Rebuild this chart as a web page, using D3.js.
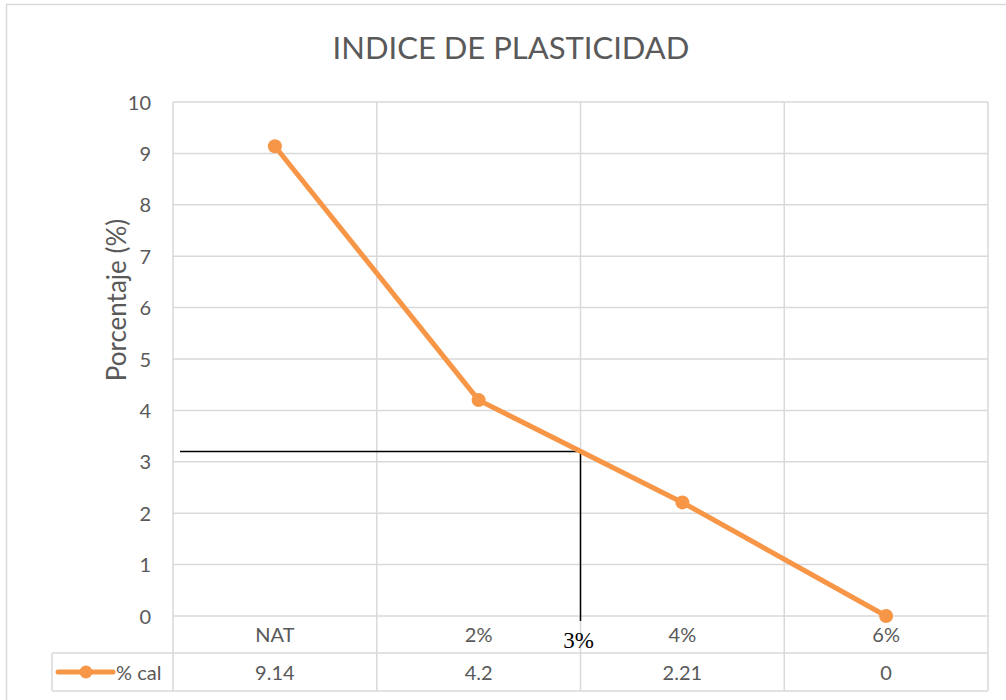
<!DOCTYPE html>
<html><head><meta charset="utf-8">
<script src="https://cdn.jsdelivr.net/npm/d3@7"></script>
<style>body{margin:0;background:#fff}svg{display:block}</style>
</head><body>
<svg id="c" width="1006" height="700"></svg>
<script>
const categories = ["NAT","2%","4%","6%"];
const values = [9.14, 4.2, 2.21, 0];
const valueLabels = ["9.14","4.2","2.21","0"];
const yTicks = [0,1,2,3,4,5,6,7,8,9,10];
const seriesName = "% cal";
const refValue = 3.2;   // reading line
const refLabel = "3%";

const svg = d3.select("#c");
const font = "Lato, 'Liberation Sans', sans-serif";
const grey = "#595959", gridC = "#d9d9d9", orange = "#F79646";
const L = 173, R = 988, T = 102, B = 616;

// chart border
svg.append("rect").attr("x",6.5).attr("y",4.5).attr("width",1010).attr("height",710)
  .attr("fill","none").attr("stroke","#d9d9d9").attr("stroke-width",1.5);

const x = d3.scaleBand().domain(categories).range([L,R]);
const y = d3.scaleLinear().domain([0,10]).range([B,T]);

// title
svg.append("text").attr("x",511).attr("y",59).attr("text-anchor","middle")
  .attr("font-family",font).attr("font-size",31).attr("fill",grey).text("INDICE DE PLASTICIDAD");

// horizontal grid
svg.append("g").selectAll("line").data(yTicks).join("line")
  .attr("x1",L).attr("x2",R).attr("y1",d=>y(d)).attr("y2",d=>y(d))
  .attr("stroke",gridC).attr("stroke-width",1.5);

// vertical grid (extend through data table)
const vx = categories.map(c=>x(c)).concat([R]);
svg.append("g").selectAll("line").data(vx).join("line")
  .attr("x1",d=>d).attr("x2",d=>d).attr("y1",T).attr("y2",691)
  .attr("stroke",gridC).attr("stroke-width",1.5);

// y axis
const yAxis = d3.axisLeft(y).tickValues(yTicks).tickSize(0).tickPadding(0).tickFormat(d3.format("d"));
const ga = svg.append("g").attr("transform",`translate(151,0)`).call(yAxis);
ga.select(".domain").remove();
ga.selectAll("text").attr("font-family",font).attr("font-size",20).attr("fill",grey).attr("dy","0.35em");

svg.append("text").attr("transform","translate(126,300) rotate(-90)").attr("text-anchor","middle")
  .attr("font-family",font).attr("font-size",26).attr("fill",grey).text("Porcentaje (%)");

// data table
const tbl = svg.append("g");
tbl.append("line").attr("x1",52).attr("x2",R).attr("y1",653).attr("y2",653).attr("stroke",gridC).attr("stroke-width",1.5);
tbl.append("line").attr("x1",52).attr("x2",R).attr("y1",691).attr("y2",691).attr("stroke",gridC).attr("stroke-width",1.5);
tbl.append("line").attr("x1",52).attr("x2",52).attr("y1",653).attr("y2",691).attr("stroke",gridC).attr("stroke-width",1.5);
tbl.selectAll("text.cat").data(categories).join("text").attr("class","cat")
  .attr("x",d=>x(d)+x.bandwidth()/2).attr("y",642).attr("text-anchor","middle")
  .attr("font-family",font).attr("font-size",20).attr("fill",grey).text(d=>d);
tbl.selectAll("text.val").data(valueLabels).join("text").attr("class","val")
  .attr("x",(d,i)=>x(categories[i])+x.bandwidth()/2).attr("y",680).attr("text-anchor","middle")
  .attr("font-family",font).attr("font-size",20).attr("fill",grey).text(d=>d);
// legend key
tbl.append("line").attr("x1",58).attr("x2",113).attr("y1",672).attr("y2",672).attr("stroke",orange).attr("stroke-width",5).attr("stroke-linecap","round");
tbl.append("circle").attr("cx",86).attr("cy",672).attr("r",6.5).attr("fill",orange);
tbl.append("text").attr("x",116).attr("y",680).attr("font-family",font).attr("font-size",20).attr("fill",grey).text(seriesName);

// reference lines (3%)
const xRef = x("4%");
svg.append("line").attr("x1",180).attr("x2",xRef).attr("y1",y(refValue)).attr("y2",y(refValue)).attr("stroke","#000").attr("stroke-width",1.3);
svg.append("line").attr("x1",xRef).attr("x2",xRef).attr("y1",y(refValue)).attr("y2",621).attr("stroke","#000").attr("stroke-width",1.5);

// series line
const line = d3.line().x((d,i)=>x(categories[i])+x.bandwidth()/2).y(d=>y(d));
svg.append("path").datum(values).attr("d",line).attr("fill","none").attr("stroke",orange)
  .attr("stroke-width",5).attr("stroke-linejoin","round");
svg.append("g").selectAll("circle").data(values).join("circle")
  .attr("cx",(d,i)=>x(categories[i])+x.bandwidth()/2).attr("cy",d=>y(d)).attr("r",7).attr("fill",orange);

svg.append("text").attr("x",xRef-2).attr("y",648).attr("text-anchor","middle")
  .attr("font-family","'Liberation Serif', 'Times New Roman', serif").attr("font-size",23).attr("fill","#000").text(refLabel);
</script>
</body></html>
